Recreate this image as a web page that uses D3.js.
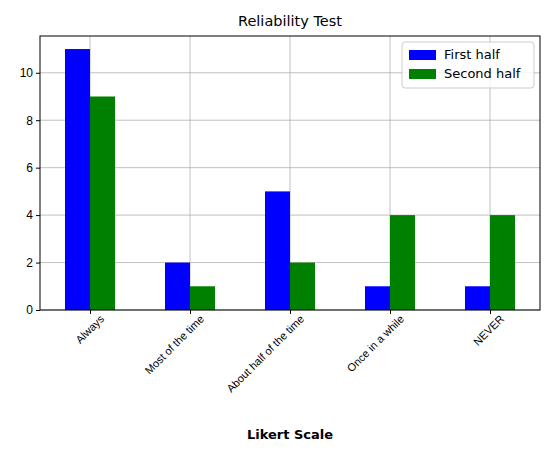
<html>
<head>
<meta charset="utf-8">
<style>
  body { margin: 0; background: #fff; font-family: "DejaVu Sans", sans-serif; }
  .grid line { stroke: #b0b0b0; stroke-width: 0.8; }
  .axis text { font-size: 12px; fill: #000; }
</style>
</head>
<body>
<div id="chart"></div>
<script src="https://cdnjs.cloudflare.com/ajax/libs/d3/7.8.5/d3.min.js"></script>
<script>
var categories = ["Always", "Most of the time", "About half of the time", "Once in a while", "NEVER"];
var firstHalf = [11, 2, 5, 1, 1];
var secondHalf = [9, 1, 2, 4, 4];
var seriesNames = ["First half", "Second half"];
var seriesColors = ["#0000ff", "#008000"];
var yTicks = [0, 2, 4, 6, 8, 10];

var W = 550, H = 452;
var margin = {top: 36, right: 10, bottom: 142, left: 40};
var width = W - margin.left - margin.right;
var height = H - margin.top - margin.bottom;

var svg = d3.select("#chart").append("svg").attr("width", W).attr("height", H);
var g = svg.append("g").attr("transform", "translate(" + margin.left + "," + margin.top + ")");

var x = d3.scaleLinear().domain([-0.5, categories.length - 0.5]).range([0, width]);
var y = d3.scaleLinear().domain([0, 11.55]).range([height, 0]);
var barW = x(0.25) - x(0);

// grid
g.append("g").attr("class", "grid").selectAll("line.h").data(yTicks).enter().append("line")
  .attr("x1", 0).attr("x2", width).attr("y1", d => y(d)).attr("y2", d => y(d));
g.append("g").attr("class", "grid").selectAll("line.v").data(d3.range(categories.length)).enter().append("line")
  .attr("y1", 0).attr("y2", height).attr("x1", d => x(d)).attr("x2", d => x(d));

// bars
[firstHalf, secondHalf].forEach(function(vals, s) {
  g.selectAll("rect.s" + s).data(vals).enter().append("rect")
    .attr("class", "s" + s)
    .attr("x", (d, i) => x(i) + (s === 0 ? -barW : 0))
    .attr("width", barW)
    .attr("y", d => y(d))
    .attr("height", d => height - y(d))
    .attr("fill", seriesColors[s]);
});

// axes
var yAxis = g.append("g").attr("class", "axis")
  .call(d3.axisLeft(y).tickValues(yTicks).tickSize(4).tickSizeOuter(0));
yAxis.selectAll("text").style("font-size", "12px");
var xAxis = g.append("g").attr("class", "axis").attr("transform", "translate(0," + height + ")")
  .call(d3.axisBottom(x).tickValues(d3.range(categories.length)).tickFormat(i => categories[i]).tickSize(4).tickSizeOuter(0));
xAxis.selectAll("text")
  .style("font-size", "11px")
  .attr("text-anchor", "end")
  .attr("dx", "0.3em").attr("dy", "0.9em")
  .attr("transform", "rotate(-45)");
g.selectAll(".domain").remove();
g.append("rect").attr("width", width).attr("height", height).attr("fill", "none").attr("stroke", "#000").attr("stroke-width", 1);

// title and label
svg.append("text").attr("x", margin.left + width / 2).attr("y", 26).attr("text-anchor", "middle")
  .style("font-size", "14.5px").text("Reliability Test");
svg.append("text").attr("x", margin.left + width / 2).attr("y", 439).attr("text-anchor", "middle")
  .style("font-size", "13px").style("font-weight", "bold").text("Likert Scale");

// legend
var lg = g.append("g").attr("transform", "translate(" + (width - 138) + ",6)");
lg.append("rect").attr("width", 132).attr("height", 46).attr("rx", 3)
  .attr("fill", "#fff").attr("fill-opacity", 0.8).attr("stroke", "#ccc");
seriesNames.forEach(function(n, i) {
  lg.append("rect").attr("x", 7).attr("y", 8 + i * 19).attr("width", 27).attr("height", 10).attr("fill", seriesColors[i]);
  lg.append("text").attr("x", 42).attr("y", 17 + i * 19).style("font-size", "13px").text(n);
});
</script>
</body>
</html>
